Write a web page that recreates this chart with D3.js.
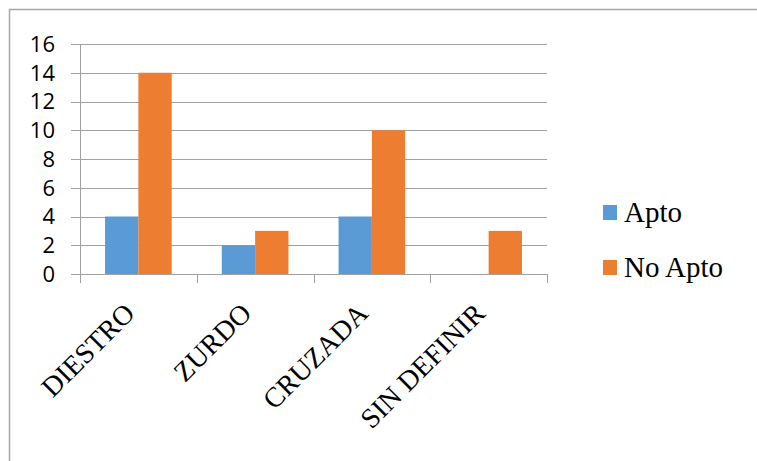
<!DOCTYPE html>
<html>
<head>
<meta charset="utf-8">
<script src="https://cdn.jsdelivr.net/npm/d3@7"></script>
</head>
<body>
<svg id="chart" width="757" height="461"></svg>
<script>
// Chart data
const categories = ["DIESTRO", "ZURDO", "CRUZADA", "SIN DEFINIR"];
const seriesNames = ["Apto", "No Apto"];
const aptoValues = [4, 2, 4, 0];
const noAptoValues = [14, 3, 10, 3];
const yTicks = [0, 2, 4, 6, 8, 10, 12, 14, 16];
const seriesColors = ["#5B9BD5", "#ED7D31"];

const series = [aptoValues, noAptoValues];
const SERIF = '"Liberation Serif"';
const SANS = '"Open Sans"';

d3.select("body").style("margin", "0px").style("background", "#fff");
const svg = d3.select("#chart").style("display", "block");
const W = 757, H = 461;

// Outer chart border (top and left edges visible within the frame)
svg.append("rect")
  .attr("x", 9.5).attr("y", 9.5)
  .attr("width", W + 20).attr("height", H + 20)
  .attr("fill", "none")
  .attr("stroke", "#a6a6a6")
  .attr("stroke-width", 1.5);

const plot = { left: 80, right: 547, top: 44, bottom: 274 };

const y = d3.scaleLinear().domain([0, 16]).range([plot.bottom, plot.top]);
const x0 = d3.scaleBand().domain(categories).range([plot.left, plot.right]).padding(0);
const groupWidth = x0.bandwidth() * 0.571;
const x1 = d3.scaleBand().domain(seriesNames).range([0, groupWidth]).padding(0);

// Horizontal gridlines with short ticks on the left
svg.append("g").selectAll("line")
  .data(yTicks)
  .join("line")
  .attr("x1", plot.left - 9)
  .attr("x2", plot.right)
  .attr("y1", d => Math.round(y(d)) + 0.5)
  .attr("y2", d => Math.round(y(d)) + 0.5)
  .attr("stroke", "#a0a0a0")
  .attr("stroke-width", 1);

// Vertical axis line
svg.append("line")
  .attr("x1", plot.left + 0.5).attr("x2", plot.left + 0.5)
  .attr("y1", plot.top).attr("y2", plot.bottom)
  .attr("stroke", "#a0a0a0");

// Y tick labels
svg.append("g").selectAll("text")
  .data(yTicks)
  .join("text")
  .style("font-family", SANS)
  .attr("x", 55)
  .attr("y", d => y(d))
  .attr("dy", "0.36em")
  .attr("text-anchor", "end")
  .attr("font-size", 22)
  .attr("fill", "#000")
  .text(d => d);

// Bars
const groups = svg.append("g").selectAll("g")
  .data(categories)
  .join("g")
  .attr("transform", d => `translate(${x0(d) + (x0.bandwidth() - groupWidth) / 2},0)`);

groups.selectAll("rect")
  .data((d, i) => series.map((s, k) => ({ name: seriesNames[k], value: s[i], color: seriesColors[k] })))
  .join("rect")
  .attr("x", d => x1(d.name))
  .attr("width", x1.bandwidth())
  .attr("y", d => y(d.value))
  .attr("height", d => y(0) - y(d.value))
  .attr("fill", d => d.color);

// Category axis: baseline and tick marks between categories
svg.append("line")
  .attr("x1", plot.left).attr("x2", plot.right)
  .attr("y1", plot.bottom + 0.5).attr("y2", plot.bottom + 0.5)
  .attr("stroke", "#a0a0a0");
const boundaries = categories.map(c => x0(c)).concat([plot.right]);
svg.append("g").selectAll("line")
  .data(boundaries)
  .join("line")
  .attr("x1", d => Math.round(d) + 0.5)
  .attr("x2", d => Math.round(d) + 0.5)
  .attr("y1", plot.bottom)
  .attr("y2", plot.bottom + 9)
  .attr("stroke", "#a0a0a0");

// Rotated category labels
svg.append("g").selectAll("text")
  .data(categories)
  .join("text")
  .style("font-family", SERIF)
  .attr("transform", d => `translate(${x0(d) + x0.bandwidth() / 2 - 2},${plot.bottom + 41}) rotate(-45)`)
  .attr("text-anchor", "end")
  .attr("font-size", 28)
  .attr("fill", "#000")
  .text(d => d);

// Legend
const legend = svg.append("g").selectAll("g")
  .data(seriesNames)
  .join("g")
  .attr("transform", (d, i) => `translate(603,${205 + i * 55})`);
legend.append("rect")
  .attr("width", 14).attr("height", 15)
  .attr("fill", (d, i) => seriesColors[i]);
legend.append("text")
  .style("font-family", SERIF)
  .attr("x", 21)
  .attr("y", 17)
  .attr("font-size", 29)
  .attr("fill", "#000")
  .text(d => d);
</script>
</body>
</html>
